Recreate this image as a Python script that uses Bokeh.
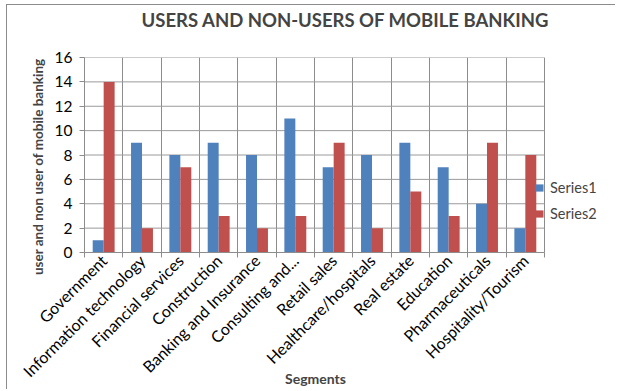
import math
import numpy as np
from bokeh.plotting import figure
from bokeh.models import (Range1d, FixedTicker, CustomJSTickFormatter, Label,
                          Legend, LegendItem)
from bokeh.embed import file_html
from bokeh.resources import INLINE

categories = ["Government", "Information technology", "Financial services",
              "Construction", "Banking and Insurance", "Consulting and...",
              "Retail sales", "Healthcare/hospitals", "Real estate",
              "Education", "Pharmaceuticals", "Hospitality/Tourism"]
series1 = [1, 9, 8, 9, 8, 11, 7, 8, 9, 7, 4, 2]
series2 = [14, 2, 7, 3, 2, 3, 9, 2, 5, 3, 9, 8]
y_ticks = [0, 2, 4, 6, 8, 10, 12, 14, 16]

FONT = "Lato"
GRID = "#8c8c8c"
BLUE = "#4F81BD"
RED = "#C0504D"

n = len(categories)
centers = np.arange(n) + 0.5
bounds = list(range(n + 1))
bw = 0.286
X_END = 13.8   # frame extends past the plot area to hold the legend

p = figure(width=609, height=385, x_range=Range1d(0, X_END), y_range=Range1d(0, 16),
           output_backend="svg", toolbar_location=None,
           min_border_left=77, min_border_right=3, min_border_top=52,
           min_border_bottom=138)
p.styles = {"margin-left": "6px", "margin-top": "4px",
            "border-left": "1px solid #8c8c8c", "border-top": "1px solid #8c8c8c"}
p.outline_line_color = None
p.background_fill_color = "white"
p.border_fill_color = "white"

# horizontal grid lines limited to the plot area
p.segment(x0=0, x1=n, y0=y_ticks, y1=y_ticks, line_color="#9a9a9a", line_width=1)

r1 = p.vbar(x=centers - bw / 2, top=series1, width=bw, fill_color=BLUE, line_color=None)
r2 = p.vbar(x=centers + bw / 2, top=series2, width=bw, fill_color=RED, line_color=None)

# x axis
xa = p.xaxis[0]
xa.bounds = (0, n)
xa.ticker = FixedTicker(ticks=list(centers), minor_ticks=bounds)
xa.formatter = CustomJSTickFormatter(args=dict(labels=categories),
                                     code="return labels[Math.floor(tick)]")
xa.major_label_orientation = math.pi / 4
xa.major_tick_in = 0
xa.major_tick_out = 0
xa.minor_tick_in = 0
xa.minor_tick_out = 5
xa.minor_tick_line_color = GRID
xa.axis_line_color = GRID
xa.major_label_text_font = FONT
xa.major_label_text_font_size = "16px"
xa.major_label_text_color = "#000000"
xa.major_label_standoff = 0

# y axis
ya = p.yaxis[0]
ya.ticker = FixedTicker(ticks=y_ticks, minor_ticks=[])
ya.major_tick_in = 0
ya.major_tick_out = 5
ya.major_tick_line_color = GRID
ya.axis_line_color = GRID
ya.major_label_text_font = FONT
ya.major_label_text_font_size = "15.5px"
ya.major_label_text_color = "#000000"
ya.major_label_standoff = 7

p.xgrid.ticker = FixedTicker(ticks=bounds, minor_ticks=[])
p.xgrid.grid_line_color = GRID
p.ygrid.grid_line_color = None

# axis title "Segments": first panel above the frame, drawn far below it
p.add_layout(Label(x=231, y=-321, x_units="screen", y_units="screen",
                   text="Segments", text_align="center", text_baseline="middle",
                   text_font=FONT, text_font_size="14px", text_font_style="bold"), "above")
# chart title
p.add_layout(Label(x=261, y=21, x_units="screen", y_units="screen",
                   text="USERS AND NON-USERS OF MOBILE BANKING",
                   text_align="center", text_baseline="middle",
                   text_font=FONT, text_font_size="18.5px", text_font_style="bold"), "above")
# y axis title in its own left panel
p.add_layout(Label(x=2, y=86, x_units="screen", y_units="screen",
                   text="user and non user of mobile banking", angle=math.pi / 2,
                   text_align="center", text_baseline="middle",
                   text_font=FONT, text_font_size="13.5px", text_font_style="bold"), "left")

legend = Legend(items=[LegendItem(label="Series1", renderers=[r1]),
                       LegendItem(label="Series2", renderers=[r2])],
                location=(450, 30), glyph_width=10, glyph_height=9,
                label_standoff=6, spacing=9, padding=0, margin=0,
                border_line_color=None, background_fill_alpha=0,
                label_text_font=FONT, label_text_font_size="14.5px")
p.add_layout(legend)

open("out.html", "w").write(file_html(p, INLINE))
